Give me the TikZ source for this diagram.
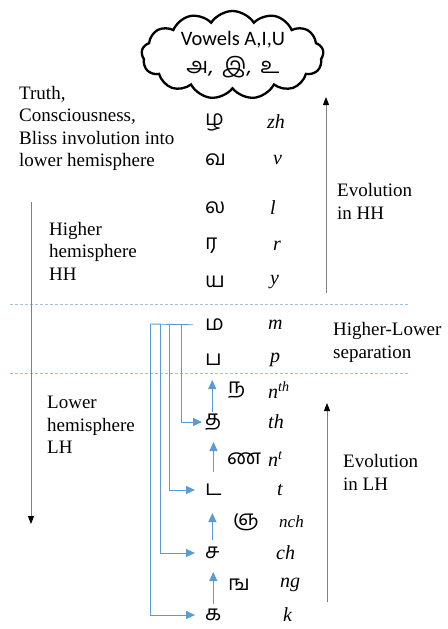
\documentclass[tikz,border=0pt]{standalone}
\usepackage{fontspec}
\setmainfont{Liberation Serif}
\newfontfamily\tamil[Script=Tamil]{Hind Madurai}
\newfontfamily\calib{Carlito}
\usetikzlibrary{arrows.meta,shapes.symbols,calc}
\definecolor{bl}{RGB}{91,155,213}
\definecolor{sepblue}{RGB}{157,195,230}
\definecolor{arrgray}{RGB}{128,128,128}
\tikzset{
  lbl/.style={font=\fontsize{19}{22.5}\selectfont, align=left, anchor=west, inner sep=0pt},
  tam/.style={font=\tamil\fontsize{21}{24}\selectfont, anchor=west, inner sep=0pt},
  lat/.style={font=\fontsize{20}{22}\selectfont\itshape, anchor=west, inner sep=0pt},
  bline/.style={draw=bl, line width=0.9pt},
  barrow/.style={bline, -{Triangle[length=9pt,width=8pt]}},
  garrow/.style={draw=arrgray, line width=1pt, -{Triangle[length=8pt,width=6pt,color=black]}},
  sepline/.style={draw=sepblue, dash pattern=on 3pt off 2pt, line width=0.7pt},
  cloudbox/.style={cloud, draw=black, line width=2.3pt, cloud puffs=13, cloud puff arc=115, aspect=2.1, minimum width=182pt, minimum height=88pt, inner sep=0pt}
}
\begin{document}
\begin{tikzpicture}[x=1pt,y=-1pt]
\useasboundingbox (0,0) rectangle (447,629);

% cloud
\node[cloudbox] (cloud) at (232.5,55) {};
\node[align=center, inner sep=0pt, font=\calib\fontsize{20.5}{28}\selectfont] (vowels) at (233,55) {Vowels A,I,U\\{\tamil\fontsize{22}{26}\selectfont அ,\, இ,\, உ}};

% left labels
\node[lbl] (truth) at (19,128.5) {Truth,\\Consciousness,\\Bliss involution into\\lower hemisphere};
\node[lbl] (higher) at (49,251) {Higher\\hemisphere\\HH};
\node[lbl] (lower) at (47,425) {Lower\\hemisphere\\LH};

% right labels
\node[lbl] (evohh) at (337,201.5) {Evolution\\in HH};
\node[lbl] (hlsep) at (333,342.5) {Higher-Lower\\separation};
\node[lbl] (evolh) at (343,472.5) {Evolution\\in LH};

% Tamil letters
\node[tam] (zha) at (205,122) {ழ};
\node[tam] (va)  at (205,160) {வ};
\node[tam] (la)  at (205,208) {ல};
\node[tam] (ra)  at (205,246) {ர};
\node[tam] (ya)  at (205,282) {ய};
\node[tam] (ma)  at (205,325) {ம};
\node[tam] (pa)  at (205,360) {ப};
\node[tam] (na)  at (228,390) {ந};
\node[tam] (tha) at (205,422) {த};
\node[tam] (nna) at (227,459) {ண};
\node[tam] (tta) at (205,490) {ட};
\node[tam] (nya) at (233,522) {ஞ};
\node[tam] (ca)  at (205,553) {ச};
\node[tam] (nga) at (228,585) {ங};
\node[tam] (ka)  at (205,615) {க};

% transliterations
\node[lat] (tzh) at (267,122) {zh};
\node[lat] (tv)  at (273,160) {v};
\node[lat] (tl)  at (270,208) {l};
\node[lat] (tr)  at (273,246) {r};
\node[lat] (ty)  at (270,282) {y};
\node[lat] (tm)  at (268,325) {m};
\node[lat] (tp)  at (270,360) {p};
\node[lat] (tnth) at (268,390) {n\textsuperscript{th}};
\node[lat] (tth) at (268,422) {th};
\node[lat] (tnt) at (268,459) {n\textsuperscript{t}};
\node[lat] (tt)  at (277,490) {t};
\node[lat, font=\fontsize{17}{20}\selectfont\itshape] (tnch) at (279,522) {nch};
\node[lat] (tch) at (276,553) {ch};
\node[lat] (tng) at (280,585) {ng};
\node[lat] (tk)  at (283,615) {k};

% separators
\coordinate (s1l) at (10,304); \coordinate (s1r) at (408,304);
\coordinate (s2l) at (10,373); \coordinate (s2r) at (408,373);
\draw[sepline] (s1l) -- (s1r);
\draw[sepline] (s2l) -- (s2r);

% gray arrows
\coordinate (hhs) at (326,293); \coordinate (hhe) at (326,97);
\coordinate (lhs) at (327,602); \coordinate (lhe) at (327,403);
\coordinate (dns) at (31,202);  \coordinate (dne) at (31,524);
\draw[garrow] (hhs) -- (hhe);
\draw[garrow] (lhs) -- (lhe);
\draw[garrow] (dns) -- (dne);

% blue bracket
\coordinate (b1) at (181,324);
\coordinate (b2) at (169,324);
\coordinate (b3) at (160,324);
\coordinate (b4) at (150,324);
\draw[bline, shorten <=12pt] (ma.west) -- (b4);
\draw[barrow, shorten >=3pt] (b1) |- (tha.west);
\draw[barrow, shorten >=10pt] (b2) |- (tta.west);
\draw[barrow, shorten >=10pt] (b3) |- (ca.west);
\draw[barrow, shorten >=10pt] (b4) |- (ka.west);

% blue up arrows
\draw[barrow] ($(tha.center)+(-1,-10)$) -- ($(tha.center |- na.center)+(-1,-10)$);
\draw[barrow] ($(tta.center)+(0,-18)$) -- ($(tta.center |- nna.center)+(0,-17)$);
\draw[barrow] ($(ca.center)+(0,-13)$) -- ($(ca.center |- nya.center)+(0,-9)$);
\draw[barrow] ($(ka.center)+(0,-11)$) -- ($(ka.center |- nga.center)+(0,-13)$);
\end{tikzpicture}
\end{document}
